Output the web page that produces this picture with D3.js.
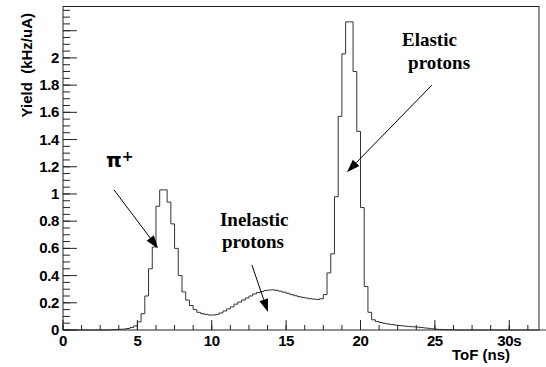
<!DOCTYPE html>
<html><head><meta charset="utf-8">
<script src="https://cdn.jsdelivr.net/npm/d3@7"></script>
<style>html,body{margin:0;padding:0;background:#fff;}svg{display:block;}</style>
</head><body>
<script>
// Histogram: ToF bins of 0.25 ns from 0 to 32 ns
const binWidth = 0.25;
const binStart = 0;
const yieldValues = [
  0,0,0,0,0,0,0,0,0,0,0,0,
  0.001,0.002,0.003,0.005,0.007,0.011,0.018,0.03,
  0.06,0.12,0.25,0.45,0.61,0.91,1.03,1.03,
  0.94,0.78,0.60,0.40,0.28,0.22,0.18,0.15,
  0.13,0.12,0.115,0.11,0.11,0.115,0.125,0.14,
  0.155,0.17,0.19,0.205,0.22,0.235,0.25,0.265,
  0.275,0.283,0.29,0.294,0.295,0.292,0.285,0.278,
  0.27,0.26,0.252,0.245,0.24,0.235,0.23,0.227,
  0.225,0.23,0.26,0.42,0.56,0.98,1.57,2.03,
  2.265,2.265,1.90,1.46,0.90,0.32,0.13,0.075,
  0.062,0.055,0.049,0.044,0.04,0.036,0.033,0.03,
  0.027,0.025,0.023,0.021,0.018,0.015,0.012,0.009,
  0.006,0.004,0.003,0.002,0.001,0.001,0,0,
  0,0,0,0,0,0,0,0,0,0,0,0,0,0,0,0,0,0,0,0,0,0
];
const xTickValues = [0,5,10,15,20,25,30];
const xTickLabels = ["0","5","10","15","20","25","30s"];
const yTickValues = [0,0.2,0.4,0.6,0.8,1,1.2,1.4,1.6,1.8,2,2.2];
const yTickLabels = ["0","0.2","0.4","0.6","0.8","1","1.2","1.4","1.6","1.8","2",""];
const xTitle = "ToF (ns)";
const yTitle = "Yield \u00a0(kHz/uA)";
// annotations in data coordinates
const labels = [
  {lines:["Inelastic","protons"], x:[10.55,10.69], y:[0.765,0.60]},
  {lines:["Elastic","protons"], x:[22.79,23.2], y:[2.09,1.92]}
];
const arrows = [
  {x1:3.43,y1:1.03,x2:6.39,y2:0.60},
  {x1:12.7,y1:0.478,x2:13.78,y2:0.132},
  {x1:24.8,y1:1.80,x2:19.09,y2:1.16}
];
const piLabel = {x:2.89, y:1.2};

const W=546,H=367;
const svg=d3.select("body").append("svg").attr("width",W).attr("height",H);
svg.append("rect").attr("width",W).attr("height",H).attr("fill","#fff");
const x=d3.scaleLinear().domain([0,32]).range([63,539]);
const y=d3.scaleLinear().domain([0,2.378]).range([330,6.5]);
const sans="Liberation Sans, Arial, sans-serif";

// histogram step line
const pts=[];
yieldValues.forEach((v,i)=>{const lo=binStart+i*binWidth;pts.push([lo,v]);pts.push([lo+binWidth,v]);});
svg.append("path").attr("d",d3.line().x(d=>x(d[0])).y(d=>y(d[1]))(pts))
  .attr("fill","none").attr("stroke","#333").attr("stroke-width",1);

// frame
svg.append("rect").attr("x",63).attr("y",6.5).attr("width",476).attr("height",323.5)
  .attr("fill","none").attr("stroke","#222").attr("stroke-width",1);

// x axis ticks
const xMinor=d3.range(0,32.001,1.25);
const gx=svg.append("g");
gx.selectAll("line.mi").data(xMinor).join("line").attr("x1",d=>x(d)).attr("x2",d=>x(d))
  .attr("y1",330).attr("y2",325).attr("stroke","#222");
gx.selectAll("line.ma").data(xTickValues).join("line").attr("x1",d=>x(d)).attr("x2",d=>x(d))
  .attr("y1",330).attr("y2",320).attr("stroke","#222");
gx.selectAll("text").data(xTickValues).join("text").attr("x",d=>x(d)).attr("y",346)
  .attr("text-anchor","middle").attr("font-family",sans)
  .attr("font-weight","bold").attr("font-size",15).attr("letter-spacing",-0.4).text((d,i)=>xTickLabels[i]);

// y axis ticks
const yMinor=d3.range(0,2.36,0.05);
const gy=svg.append("g");
gy.selectAll("line.mi").data(yMinor).join("line").attr("x1",63).attr("x2",70)
  .attr("y1",d=>y(d)).attr("y2",d=>y(d)).attr("stroke","#222");
gy.selectAll("line.ma").data(yTickValues).join("line").attr("x1",63).attr("x2",77)
  .attr("y1",d=>y(d)).attr("y2",d=>y(d)).attr("stroke","#222");
gy.selectAll("text").data(yTickValues).join("text").attr("x",59).attr("y",d=>y(d)+5)
  .attr("text-anchor","end").attr("font-family",sans)
  .attr("font-weight","bold").attr("font-size",15).attr("letter-spacing",-0.4).text((d,i)=>yTickLabels[i]);

// titles
svg.append("text").attr("x",510).attr("y",360).attr("text-anchor","end")
  .attr("font-family",sans).attr("font-weight","bold")
  .attr("font-size",15).text(xTitle);
svg.append("text").attr("transform","translate(32,13) rotate(-90)").attr("text-anchor","end")
  .attr("font-family",sans).attr("font-weight","bold")
  .attr("font-size",15).text(yTitle);

// annotations
labels.forEach(l=>{
  l.lines.forEach((t,i)=>{
    svg.append("text").attr("x",x(l.x[i])).attr("y",y(l.y[i]))
      .attr("font-family","Liberation Serif, Times New Roman, serif").attr("font-weight","bold")
      .attr("font-size",19).text(t);
  });
});
const pt=svg.append("text").attr("x",x(piLabel.x)).attr("y",y(piLabel.y))
  .attr("font-family","DejaVu Sans, sans-serif").attr("font-weight","bold").attr("font-size",20);
pt.append("tspan").text("π");
pt.append("tspan").attr("dy",-6).attr("font-size",14).text("+");

arrows.forEach(a=>{
  const X1=x(a.x1),Y1=y(a.y1),X2=x(a.x2),Y2=y(a.y2);
  const ang=Math.atan2(Y2-Y1,X2-X1),L=13,Wd=4.5;
  const bx=X2-L*Math.cos(ang),by=Y2-L*Math.sin(ang);
  svg.append("line").attr("x1",X1).attr("y1",Y1).attr("x2",bx).attr("y2",by).attr("stroke","#000").attr("stroke-width",1);
  const p=[[X2,Y2],[bx+Wd*Math.sin(ang),by-Wd*Math.cos(ang)],[bx-Wd*Math.sin(ang),by+Wd*Math.cos(ang)]];
  svg.append("path").attr("d","M"+p.map(q=>q.join(",")).join("L")+"Z").attr("fill","#000");
});
</script>
</body></html>
